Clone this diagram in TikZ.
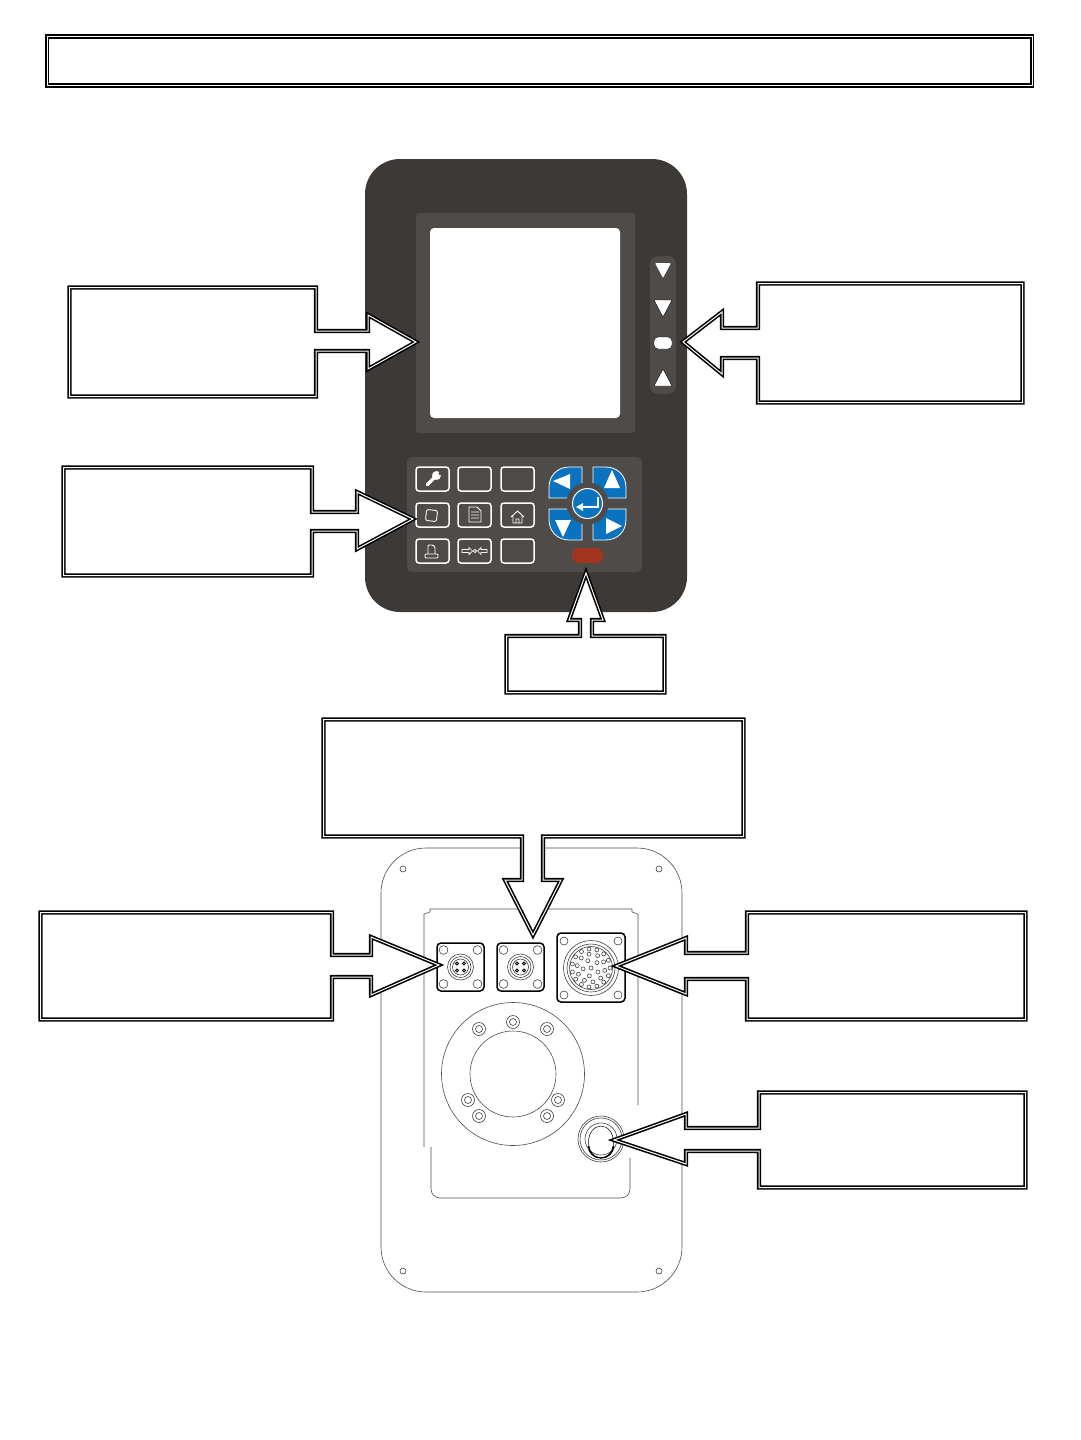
\documentclass[tikz,border=0pt]{standalone}
\usepackage{tikz}
\definecolor{panelgray}{HTML}{3D3936}
\definecolor{bezelgray}{HTML}{4E4B49}
\definecolor{padblue}{HTML}{0A72BF}
\definecolor{ledred}{HTML}{A33420}
\tikzstyle{callout}=[draw=black, fill=white, line width=1.6pt, double=white, double distance=1pt, miter limit=10]
\tikzstyle{softkey}=[draw=white, line width=1.5pt, rounded corners=3pt]
\tikzstyle{icon}=[draw=white, line width=0.9pt]
\tikzstyle{outline}=[draw=black!70, line width=0.6pt]
\tikzstyle{plug}=[draw=black, line width=1.5pt, rounded corners=4pt]
\tikzstyle{thin}=[draw=black!75, line width=0.6pt]
\newcommand{\callout}{\draw[callout]}
\newcommand{\softkey}[2]{\draw[softkey] (#1,#2) rectangle +(33,24);}
\newcommand{\smallplug}[1]{
\draw[plug] (#1,943) rectangle +(47,48);
\foreach \cx/\cy in {-17/-17,17/-17,-17/17,17/17}
  \draw[thin] (#1+23.5+\cx,967+\cy) circle (4.4);
\foreach \rr in {13,10.5,8}
  \draw[thin] (#1+23.5,967) circle (\rr);
\foreach \cx/\cy in {-3.5/-3.5,3.5/-3.5,-3.5/3.5,3.5/3.5}
  \draw[draw=black, line width=0.6pt, fill=black!40] (#1+23.5+\cx,967+\cy) circle (1.6);
}
\begin{document}
\begin{tikzpicture}[x=1pt, y=-1pt]
\useasboundingbox (0,0) rectangle (1080,1440);
\fill[panelgray, rounded corners=35pt] (365,159) rectangle (687,612);
\fill[bezelgray, rounded corners=3pt] (416,213) rectangle (635,433);
\fill[white, rounded corners=4pt] (430,228) rectangle (620,418);
\fill[bezelgray, rounded corners=8pt] (650,256) rectangle (676,394);
\fill[white, rounded corners=1pt] (655,263) -- (671,263) -- (663,278) -- cycle;
\draw[black, fill=white, rounded corners=1pt] (654,300) -- (672,300) -- (663,317) -- cycle;
\draw[black, fill=white, rounded corners=4pt] (654,337) rectangle (672,349);
\draw[black, fill=white, rounded corners=1pt] (654,386) -- (672,386) -- (663,369) -- cycle;
\fill[bezelgray, rounded corners=5pt] (407,457) rectangle (642,572);
\foreach \kx in {416,458,501}
  \foreach \ky in {467,503,539}
    \softkey{\kx}{\ky}
\draw[white, line width=2.8pt, line cap=round] (427,485) -- (435,477);
\fill[white] (436.5,475.5) circle (4.5);
\fill[bezelgray] (438.5,473.5) -- (440.5,470) -- (443,472.5) -- (440,475.5) -- cycle;
\draw[icon, rounded corners=2pt, rotate around={-6:(431.5,515.5)}] (426,510) rectangle (437,521);
\draw[icon] (469,507) -- (477,507) -- (481,511) -- (481,522) -- (469,522) -- cycle (471,512) -- (479,512) (471,515) -- (479,515) (471,518) -- (479,518);
\draw[icon] (511,517) -- (517.5,511) -- (524,517) (513,516) -- (513,523) -- (522,523) -- (522,516) (516,523) -- (516,519) -- (519,519) -- (519,523);
\draw[icon, rounded corners=1pt] (425,558) -- (438,558) -- (438,554) -- (425,554) -- cycle (428,554) -- (428,545) -- (433,545) -- (435,547) -- (435,554);
\draw[icon, line width=0.7pt] (462,549.5) -- (469,549.5) -- (469,547.5) -- (472.5,551) -- (469,554.5) -- (469,552.5) -- (462,552.5) -- cycle (487,549.5) -- (481,549.5) -- (481,547.5) -- (477.5,551) -- (481,554.5) -- (481,552.5) -- (487,552.5) -- cycle (475,551) circle (1.6);
\foreach \sx/\sy in {-1/-1,1/-1,-1/1,1/1}
  \draw[fill=padblue, draw=white, line width=0.8pt, shift={(587.5,503.5)}, xscale=\sx, yscale=\sy] (5.5,-5.5) -- (5.5,-36.5) -- (18,-36.5) .. controls (30,-36.5) and (38.5,-28) .. (38.5,-16) -- (38.5,-5.5) -- cycle;
\fill[bezelgray] (587.5,503.5) circle (21);
\draw[fill=padblue, draw=white, line width=1pt] (587.5,503.5) circle (15);
\fill[white] (553,481) -- (570,474) -- (570,489) -- cycle;
\fill[white] (612,470) -- (620,488) -- (604,488) -- cycle;
\fill[white] (563,537) -- (555,520) -- (571,520) -- cycle;
\fill[white] (622,526) -- (606,518) -- (606,534) -- cycle;
\draw[white, line width=1.4pt] (598,497) -- (598,507) -- (581,507);
\fill[white] (576,507) -- (583,503) -- (583,511) -- cycle;
\fill[ledred, rounded corners=7pt] (572,548) rectangle (603,563);
\draw[outline, rounded corners=45pt] (381,848) rectangle (682,1292);
\foreach \hx/\hy in {403/869,659/869,403/1271,659/1271}
  \draw[thin] (\hx,\hy) circle (3);
\draw[outline] (424,1147) -- (424,914) -- (430,912) -- (430,909) -- (632,909) -- (632,912) -- (638,914) -- (638,1105);
\draw[outline, rounded corners=9pt] (431,1147) -- (431,1198) -- (630,1198) -- (630,1158);
\smallplug{437}
\smallplug{497}
\draw[plug] (557,933) rectangle (625,1002);
\foreach \cx/\cy in {-27/-27,27/-27,-27/27,27/27}
  \draw[thin] (591+\cx,968+\cy) circle (4);
\foreach \rr in {27.5,24,21.5}
  \draw[thin] (591,968) circle (\rr);
\draw[thin] (591,968) circle (2);
\foreach \aa in {0,72,...,288}
  \draw[thin] (591,968)+(\aa+30:8) circle (2);
\foreach \aa in {0,36,...,324}
  \draw[thin] (591,968)+(\aa+10:14) circle (2);
\foreach \aa in {0,24,...,336}
  \draw[thin] (591,968)+(\aa:19) circle (2);
\draw[outline] (513,1074) circle (71.5);
\draw[outline] (513,1074) circle (43);
\foreach \bx/\by in {513/1022,479/1029,547/1029,468/1100,558/1100,479/1116,547/1116} {
  \draw[thin] (\bx,\by) circle (6.5);
  \draw[thin] (\bx,\by) circle (3.5);
}
\draw[thin] (601,1139) circle (23);
\draw[thin] (601,1139) circle (21);
\draw[thin] (601,1139) circle (16);
\draw[black, line width=0.5pt] (601,1142) ellipse (12.5 and 16);
\draw[black, line width=1.4pt] (588.5,1146) arc (180:0:12.5 and 12);
\callout (47,36.5) rectangle (1032,85.5);
\callout (69.5,287.5) -- (316,287.5) -- (316,331) -- (368,331) -- (368,315) -- (416,342) -- (368,369) -- (368,351) -- (316,351) -- (316,396.5) -- (69.5,396.5) -- cycle;
\callout (63.5,467.5) -- (312,467.5) -- (312,512) -- (357,512) -- (357,492) -- (413,519) -- (357,549) -- (357,531) -- (312,531) -- (312,575.5) -- (63.5,575.5) -- cycle;
\callout (1022.5,283.5) -- (758,283.5) -- (758,328) -- (722,328) -- (722,312) -- (683,342) -- (722,374) -- (722,358) -- (758,358) -- (758,402.5) -- (1022.5,402.5) -- cycle;
\callout (506.5,636) -- (580,636) -- (580,620) -- (569,620) -- (586,573) -- (603,620) -- (592,620) -- (592,636) -- (664.5,636) -- (664.5,692.5) -- (506.5,692.5) -- cycle;
\callout (323.5,719.5) -- (743.5,719.5) -- (743.5,836.5) -- (543,836.5) -- (543,880) -- (561,880) -- (533,935) -- (505,880) -- (522,880) -- (522,836.5) -- (323.5,836.5) -- cycle;
\callout (40.5,912.5) -- (332,912.5) -- (332,955) -- (371,955) -- (371,937) -- (439,965) -- (371,995) -- (371,977) -- (332,977) -- (332,1019.5) -- (40.5,1019.5) -- cycle;
\callout (1025.5,912.5) -- (747,912.5) -- (747,953) -- (686,953) -- (686,938) -- (616,966) -- (686,994) -- (686,979) -- (747,979) -- (747,1019.5) -- (1025.5,1019.5) -- cycle;
\callout (1025.5,1092.5) -- (759,1092.5) -- (759,1128) -- (686,1128) -- (686,1114) -- (614,1140) -- (686,1164) -- (686,1151) -- (759,1151) -- (759,1187.5) -- (1025.5,1187.5) -- cycle;
\end{tikzpicture}
\end{document}
